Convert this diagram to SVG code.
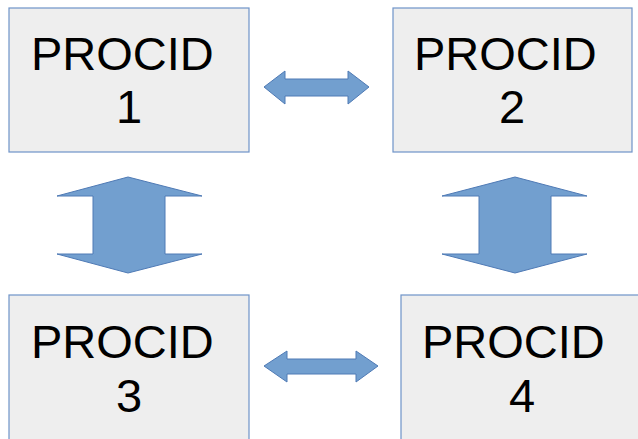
<svg xmlns="http://www.w3.org/2000/svg" width="638" height="439" viewBox="0 0 638 439">
<style>
.box{fill:#eeeeee;stroke:#6e93c8;stroke-width:1.2}
.t{font-family:"Liberation Sans",Arial,sans-serif;font-size:47px;fill:#000}
.arr{fill:#729fcf;stroke:#4f7ab5;stroke-width:1}
</style>
<rect width="638" height="439" fill="#ffffff"/>
<g id="node1">
<rect class="box" x="9" y="8" width="240" height="144"/>
<text class="t" x="31" y="70">PROCID</text>
<text class="t" x="129" y="123" text-anchor="middle">1</text>
</g>
<g id="node2">
<rect class="box" x="393" y="8" width="239" height="144"/>
<text class="t" x="414" y="70">PROCID</text>
<text class="t" x="512" y="123" text-anchor="middle">2</text>
</g>
<g id="node3">
<rect class="box" x="9" y="295" width="240" height="150"/>
<text class="t" x="31" y="358">PROCID</text>
<text class="t" x="129" y="412" text-anchor="middle">3</text>
</g>
<g id="node4">
<rect class="box" x="401" y="295" width="245" height="150"/>
<text class="t" x="422" y="358">PROCID</text>
<text class="t" x="522" y="412" text-anchor="middle">4</text>
</g>
<g id="connectors">
<path class="arr" d="M264,87 L285,71 L285,79 L348,79 L348,71 L369,87 L348,104 L348,96 L285,96 L285,104 Z"/>
<path class="arr" d="M264,366 L287,351 L287,359 L356,359 L356,351 L378,366 L356,382 L356,374 L287,374 L287,382 Z"/>
<path class="arr" d="M128,177 L202,196 L165,196 L165,254 L202,254 L128,273 L57,254 L93,254 L93,196 L57,196 Z"/>
<path class="arr" d="M515,177 L587,196 L551,196 L551,254 L587,254 L515,273 L442,254 L479,254 L479,196 L442,196 Z"/>
</g>
</svg>
